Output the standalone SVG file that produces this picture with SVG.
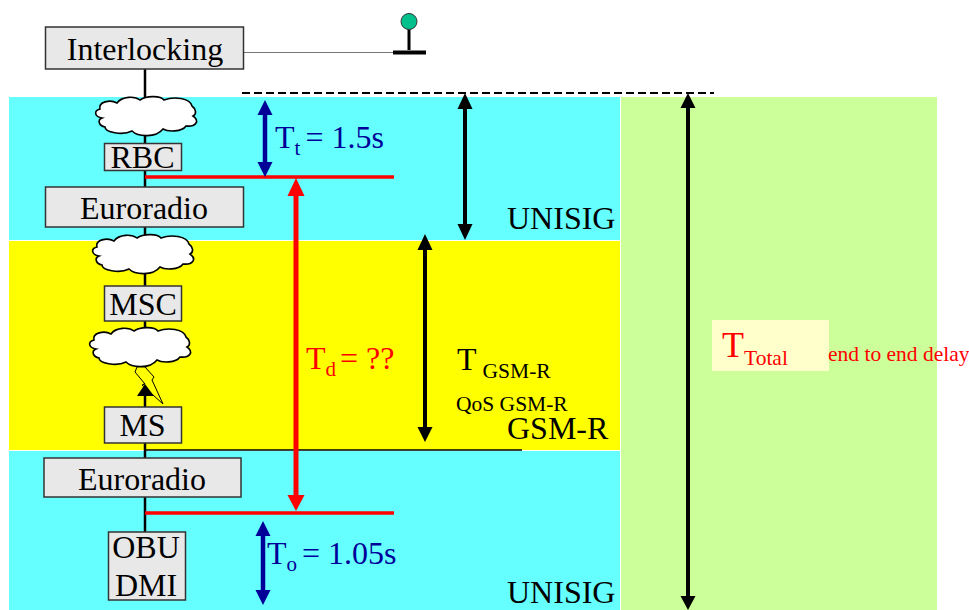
<svg xmlns="http://www.w3.org/2000/svg" width="969" height="610" viewBox="0 0 969 610">
<style>
text{font-family:"Liberation Serif","Times New Roman",serif;fill:#000}
.box{fill:#e8e8e8;stroke:#333;stroke-width:1.5}
.lbl{font-size:32px;text-anchor:middle}
.wire{stroke:#000;stroke-width:2.500;fill:none}
.cloud{fill:#fff;stroke:#000;stroke-width:1.6}
.red{fill:#f00}
.blue{fill:#009}
</style>
<defs>
<path id="cloud" d="M8 21C1 20 -1 14 6 12C4 5 16 2 23 6C28 -1 41 -1 46 3C53 -2 67 -1 70 3C80 -1 96 1 98 9C102 12 103 17 99 19C106 24 102 30 92 29C88 35 74 35 69 32C62 41 44 40 38 34C28 39 11 35 11 30C5 29 3 23 8 21Z"/>
</defs>
<rect x="9" y="97" width="611" height="143" fill="#66ffff"/>
<rect x="9" y="241" width="611" height="209" fill="#ffff00"/>
<rect x="9" y="451" width="611" height="159" fill="#66ffff"/>
<rect x="621" y="97" width="316" height="513" fill="#ccff99"/>
<rect x="712" y="320" width="117" height="51" fill="#ffffcc"/>
<g id="connectors">
<path class="wire" d="M145 69V600"/>
<path d="M241 52.500H395" stroke="#777" stroke-width="1.200" fill="none"/>
<path d="M145 450H522" stroke="#000" stroke-width="1.300" fill="none"/>
<path d="M242 93H714" stroke="#000" stroke-width="2" stroke-dasharray="8 4" fill="none"/>
<path d="M145 177H394M145 513H394" stroke="#f00" stroke-width="3.500" fill="none"/>
<path d="M296 190V498" stroke="#f00" stroke-width="5" fill="none"/>
<path class="red" d="M296 178L304.500 196H287.500ZM296 511L304.500 495H287.500Z"/>
<path d="M265 113V165" stroke="#009" stroke-width="4.500" fill="none"/>
<path class="blue" d="M265 100L272.500 115H257.500ZM265 177L272.500 162H257.500Z"/>
<path d="M263 534V594" stroke="#009" stroke-width="4.500" fill="none"/>
<path class="blue" d="M263 521L270.500 536H255.500ZM263 605L270.500 590H255.500Z"/>
<path d="M465 106V228M425 246V431M688 106V598" stroke="#000" stroke-width="4" fill="none"/>
<path d="M465 93L472.500 109H457.500ZM465 240L472.500 224H457.500ZM425 234L432.500 250H417.500ZM425 442L432.500 427H417.500ZM688 93L695.500 108H680.500ZM688 610L695.500 596H680.500Z"/>
</g>
<g id="signal">
<path d="M409 29V50" stroke="#000" stroke-width="3"/>
<rect x="393" y="50.500" width="33" height="4"/>
<circle cx="409" cy="21.500" r="8" fill="#00c08c" stroke="#333"/>
</g>
<g id="interlocking"><rect class="box" x="45.500" y="27" width="198" height="42"/><text class="lbl" x="145" y="60">Interlocking</text></g>
<g id="cloud-1"><use href="#cloud" class="cloud" x="94" y="97"/></g>
<g id="rbc"><rect class="box" x="104.500" y="143.500" width="77" height="27"/><text class="lbl" x="142.500" y="168">RBC</text></g>
<g id="euroradio-1"><rect class="box" x="45.500" y="187" width="198" height="40"/><text class="lbl" x="144" y="219">Euroradio</text></g>
<g id="cloud-2"><use href="#cloud" class="cloud" x="91" y="235"/></g>
<g id="msc"><rect class="box" x="104.500" y="286" width="77" height="35"/><text class="lbl" x="143" y="315">MSC</text></g>
<g id="cloud-3"><use href="#cloud" class="cloud" x="88" y="328"/></g>
<g id="lightning"><path d="M135 372L145 384L142 385L163 404L152 380L154 377L145 367H137Z" fill="#ffff00" stroke="#000" stroke-width="1"/><path d="M145 384L137 396H154Z"/></g>
<g id="ms"><rect class="box" x="104.500" y="407" width="77" height="36"/><text class="lbl" x="142.500" y="436">MS</text></g>
<g id="euroradio-2"><rect class="box" x="44" y="458" width="197" height="39"/><text class="lbl" x="142" y="490">Euroradio</text></g>
<g id="obu"><rect class="box" x="108.500" y="532" width="77" height="68"/><text class="lbl" x="146" y="558">OBU</text><text class="lbl" x="146" y="596">DMI</text></g>
<text x="275" y="148" font-size="32" style="fill:#009">T<tspan font-size="21" dy="7">t</tspan><tspan dy="-7" dx="5">= 1.5s</tspan></text>
<text x="267" y="564" font-size="32" style="fill:#009">T<tspan font-size="21" dy="7">o</tspan><tspan dy="-7" dx="5">= 1.05s</tspan></text>
<text x="306" y="369" font-size="32" style="fill:#f00">T<tspan font-size="21" dy="7">d</tspan><tspan dy="-7" dx="4">= ??</tspan></text>
<text x="457" y="370" font-size="32">T<tspan font-size="21.500" dy="8" dx="6">GSM-R</tspan></text>
<text x="456" y="411" font-size="21.500">QoS GSM-R</text>
<text x="507" y="439" font-size="32">GSM-R</text>
<text x="507" y="229" font-size="32">UNISIG</text>
<text x="507" y="603" font-size="32">UNISIG</text>
<text x="722" y="357" font-size="36" style="fill:#f00">T<tspan font-size="21.500" dy="8">Total</tspan></text>
<text x="828" y="361" font-size="21.500" style="fill:#f00">end to end delay</text>
</svg>
